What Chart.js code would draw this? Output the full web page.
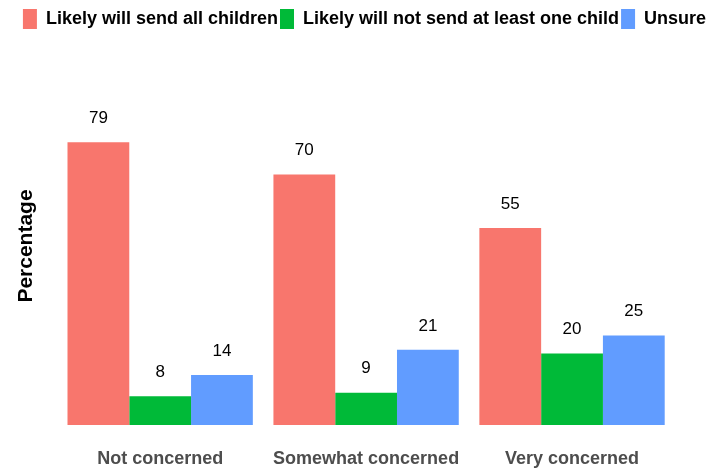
<!DOCTYPE html>
<html><head><meta charset="utf-8">
<script src="https://cdn.jsdelivr.net/npm/chart.js@4/dist/chart.umd.min.js"></script>
<style>html,body{margin:0;padding:0;background:#fff}#wrap{width:715px;height:470px}</style>
</head><body><div id="wrap"><canvas id="c" width="715" height="470"></canvas></div>
<script>
const categories = ["Not concerned", "Somewhat concerned", "Very concerned"];
const sendAll = [79, 70, 55];
const notSend = [8, 9, 20];
const unsure = [14, 21, 25];
const seriesNames = ["Likely will send all children", "Likely will not send at least one child", "Unsure"];
const colors = ["#F8766D", "#00BA38", "#619CFF"];

const valueLabels = {
  id: 'valueLabels',
  afterDatasetsDraw(chart) {
    const ctx = chart.ctx;
    ctx.save();
    ctx.font = '17px "Liberation Sans", Arial, sans-serif';
    ctx.fillStyle = '#000';
    ctx.textAlign = 'center';
    ctx.textBaseline = 'middle';
    chart.data.datasets.forEach((ds, i) => {
      chart.getDatasetMeta(i).data.forEach((bar, j) => {
        ctx.fillText(String(ds.data[j]), bar.x, bar.y - 24);
      });
    });
    ctx.restore();
  }
};

const legendMargin = {
  id: 'legendMargin',
  beforeInit(chart) {
    const fit = chart.legend.fit;
    chart.legend.fit = function () {
      fit.bind(chart.legend)();
      this.height += 28;
    };
  }
};

Chart.defaults.font.family = '"Liberation Sans", Arial, sans-serif';
new Chart(document.getElementById('c'), {
  type: 'bar',
  data: {
    labels: categories,
    datasets: [
      {label: seriesNames[0], data: sendAll, backgroundColor: colors[0]},
      {label: seriesNames[1], data: notSend, backgroundColor: colors[1]},
      {label: seriesNames[2], data: unsure, backgroundColor: colors[2]}
    ]
  },
  options: {
    responsive: false,
    animation: false,
    layout: {padding: {left: 14, right: 0, top: 7, bottom: 0}},
    datasets: {bar: {categoryPercentage: 0.9, barPercentage: 1.0}},
    plugins: {
      legend: {
        position: 'top',
        labels: {boxWidth: 14, boxHeight: 20, padding: 2, color: '#000',
          font: {size: 18, weight: 'bold'}},
      },
      tooltip: {enabled: false}
    },
    scales: {
      x: {
        grid: {display: false}, border: {display: false},
        ticks: {color: '#4d4d4d', font: {size: 18, weight: 'bold'}, padding: 15},
        afterFit(scale) { scale.height = 45; }
      },
      y: {
        min: 0, max: 100,
        grid: {display: false}, border: {display: false},
        ticks: {display: false},
        title: {display: true, text: 'Percentage', color: '#000', font: {size: 21, weight: 'bold'}, padding: {top: 0, bottom: 10}}
      },
      yRight: {
        position: 'right', min: 0, max: 100,
        grid: {display: false}, border: {display: false},
        ticks: {display: false},
        afterFit(scale) { scale.width = 40; }
      }
    }
  },
  plugins: [valueLabels, legendMargin]
});
</script></body></html>
